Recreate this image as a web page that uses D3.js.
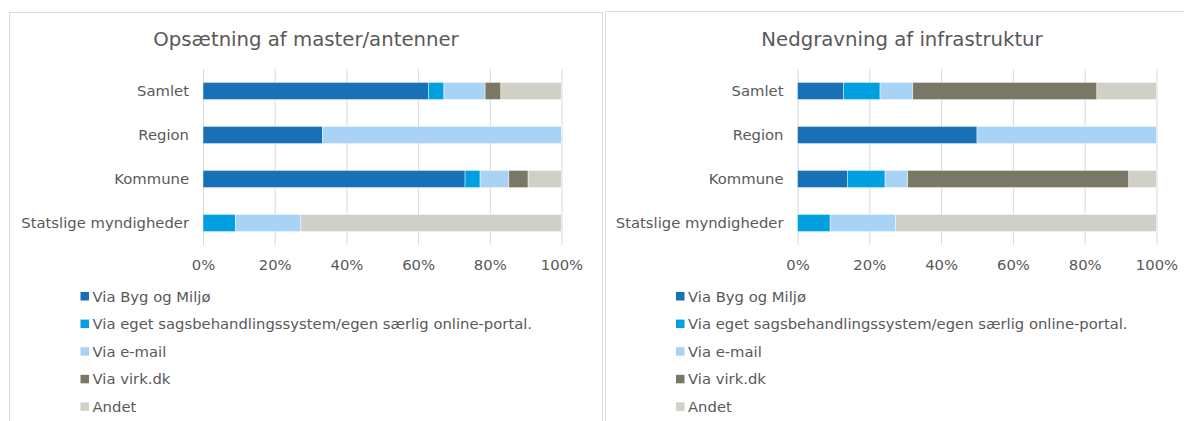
<!DOCTYPE html>
<html>
<head>
<meta charset="utf-8">
<script src="https://cdn.jsdelivr.net/npm/d3@7"></script>
<style>
  body { margin: 0; background: #fff; }
  svg { display: block; font-family: "DejaVu Sans", Verdana, sans-serif; }
</style>
</head>
<body>
<svg width="1184" height="421"></svg>
<script>
var categories = ['Samlet', 'Region', 'Kommune', 'Statslige myndigheder'];
var seriesNames = ['Via Byg og Miljø', 'Via eget sagsbehandlingssystem/egen særlig online-portal.', 'Via e-mail', 'Via virk.dk', 'Andet'];
var colors = ['#1771b7', '#009fe0', '#a9d3f4', '#797866', '#d0d0c6'];
var tickValues = [0, 0.2, 0.4, 0.6, 0.8, 1];

// Opsætning af master/antenner (share per category, per series)
var mastByg = [0.629, 0.333, 0.731, 0];
var mastEget = [0.043, 0, 0.042, 0.091];
var mastMail = [0.115, 0.667, 0.080, 0.182];
var mastVirk = [0.044, 0, 0.054, 0];
var mastAndet = [0.169, 0, 0.093, 0.727];

// Nedgravning af infrastruktur
var gravByg = [0.128, 0.50, 0.139, 0];
var gravEget = [0.102, 0, 0.105, 0.091];
var gravMail = [0.091, 0.50, 0.063, 0.182];
var gravVirk = [0.513, 0, 0.616, 0];
var gravAndet = [0.166, 0, 0.077, 0.727];

var svg = d3.select('svg');
var textColor = '#595959';
var gridColor = '#d9d9d9';
var labelSize = '14.8px';

function buildRows(cols) {
    return categories.map(function (c, i) {
        var row = { cat: c };
        seriesNames.forEach(function (s, j) { row[s] = cols[j][i]; });
        return row;
    });
}

function drawChart(opts) {
    var g = svg.append('g');

    // panel border
    g.append('rect')
        .attr('x', opts.panel[0] + 0.5)
        .attr('y', opts.panel[1] + 0.5)
        .attr('width', opts.panel[2])
        .attr('height', 440)
        .attr('fill', 'none')
        .attr('stroke', gridColor);

    g.append('text')
        .attr('x', opts.titleX)
        .attr('y', 39)
        .attr('dy', '0.35em')
        .attr('text-anchor', 'middle')
        .attr('fill', textColor)
        .style('font-size', '19.7px')
        .text(opts.title);

    var x = d3.scaleLinear().domain([0, 1]).range(opts.xRange);
    var y = d3.scaleBand().domain(categories).range([69, 245])
        .paddingInner(0.61).paddingOuter(0.305);

    var axis = g.append('g')
        .attr('transform', 'translate(0,245)')
        .call(d3.axisBottom(x)
            .tickValues(tickValues)
            .tickFormat(d3.format('.0%'))
            .tickSize(-176)
            .tickPadding(14));
    axis.select('.domain').remove();
    axis.selectAll('line').attr('stroke', gridColor);
    axis.selectAll('text')
        .attr('fill', textColor)
        .style('font-size', labelSize)
        .style('font-family', '"DejaVu Sans", Verdana, sans-serif');

    var stack = d3.stack().keys(seriesNames);
    var layers = stack(buildRows(opts.cols));

    g.selectAll('.layer')
        .data(layers)
        .enter().append('g')
        .attr('fill', function (d, i) { return colors[i]; })
        .selectAll('rect')
        .data(function (d) { return d; })
        .enter().append('rect')
        .filter(function (d) { return d[1] - d[0] > 0; })
        .attr('x', function (d) { return x(d[0]); })
        .attr('y', function (d) { return y(d.data.cat); })
        .attr('width', function (d) { return x(d[1]) - x(d[0]); })
        .attr('height', y.bandwidth())
        .attr('stroke', '#fff')
        .attr('stroke-opacity', 0.6)
        .attr('stroke-width', 0.75);

    g.selectAll('.cat')
        .data(categories)
        .enter().append('text')
        .attr('x', opts.xRange[0] - 14)
        .attr('y', function (d) { return y(d) + y.bandwidth() / 2; })
        .attr('dy', '0.35em')
        .attr('text-anchor', 'end')
        .attr('fill', textColor)
        .style('font-size', labelSize)
        .text(function (d) { return d; });

    var legend = g.selectAll('.leg')
        .data(seriesNames)
        .enter().append('g')
        .attr('transform', function (d, i) {
            return 'translate(' + opts.legendX + ',' + (296.5 + i * 27.6) + ')';
        });
    legend.append('rect')
        .attr('x', 0)
        .attr('y', -4.5)
        .attr('width', 8.5)
        .attr('height', 8.5)
        .attr('fill', function (d, i) { return colors[i]; });
    legend.append('text')
        .attr('x', 12)
        .attr('dy', '0.35em')
        .attr('fill', textColor)
        .style('font-size', labelSize)
        .text(function (d) { return d; });
}

drawChart({
    title: 'Opsætning af master/antenner',
    panel: [9, 12, 593],
    titleX: 306,
    xRange: [203, 561.5],
    legendX: 80.5,
    cols: [mastByg, mastEget, mastMail, mastVirk, mastAndet]
});

drawChart({
    title: 'Nedgravning af infrastruktur',
    panel: [605, 11, 600],
    titleX: 902,
    xRange: [797.5, 1156.5],
    legendX: 676,
    cols: [gravByg, gravEget, gravMail, gravVirk, gravAndet]
});
</script>
</body>
</html>
